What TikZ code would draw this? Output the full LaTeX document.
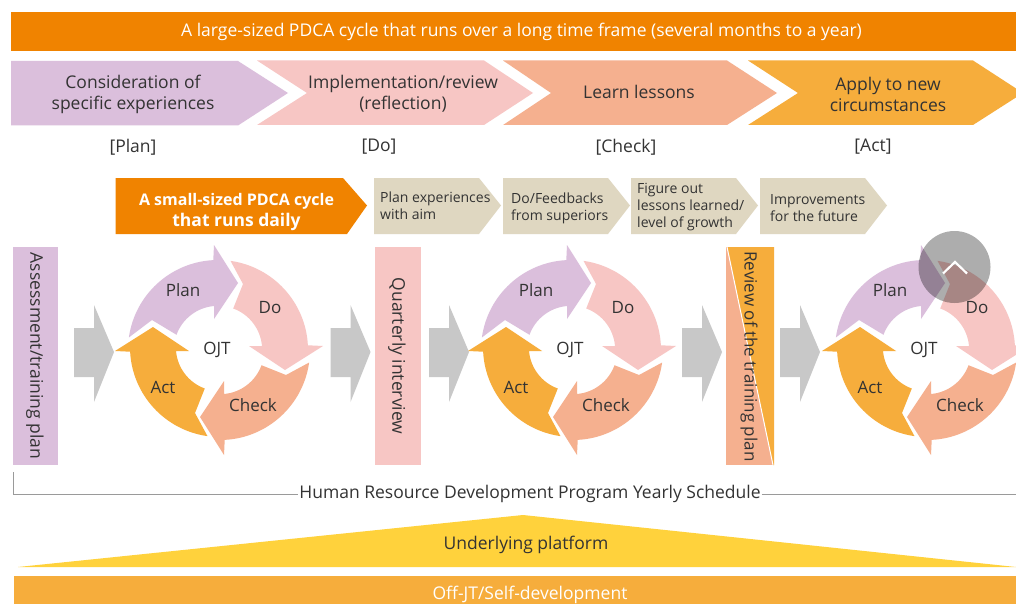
\documentclass[tikz,border=0pt]{standalone}
\usepackage{fontspec}
\setmainfont{Open Sans}
\definecolor{cPlan}{HTML}{DBBFDC}
\definecolor{cDo}{HTML}{F7C6C4}
\definecolor{cCheck}{HTML}{F5B08F}
\definecolor{cAct}{HTML}{F6AD3C}
\definecolor{cOrange}{HTML}{F08300}
\definecolor{cBeige}{HTML}{DFD7C1}
\definecolor{cGray}{HTML}{C8C8C8}
\definecolor{cYellow}{HTML}{FFD23C}
\definecolor{cText}{HTML}{333333}
\definecolor{cRule}{HTML}{9A9A9A}
\tikzset{
  txt/.style={font=\fontsize{17.5}{21}\selectfont,text=cText,inner sep=0pt,align=center},
  whitetxt/.style={txt,text=white},
  small/.style={txt,font=\fontsize{14}{17}\selectfont,align=left,anchor=west},
  vert/.style={txt,rotate=-90},
  cyc/.style={txt,font=\fontsize{17}{20}\selectfont},
}
% one curved arrow of a cycle; #1 colour, #2 rotation, #3 shift, #4 notch height
\newcommand{\cyclearrow}[4]{%
  \begin{scope}[shift={#3},rotate=#2,x=1pt,y=1pt]
    \fill[#1] (172:90) arc[start angle=172,end angle=93,radius=90] -- (-4,105) -- (20,67) -- (-4,31) -- (-4,44)
      arc[start angle=95,end angle=160,radius=44] -- (-66,#4) -- cycle;
  \end{scope}}
\newcommand{\cycleat}[2]{%
  \begin{scope}[shift={(#1,350)}]
    \cyclearrow{cPlan}{0}{(0,0)}{30}
    \cyclearrow{cDo}{-90}{(0,0)}{25}
    \cyclearrow{cCheck}{-180}{(2,0)}{25}
    \cyclearrow{cAct}{-270}{(2,-3)}{25}
  \end{scope}
  \node[cyc] (plan#2) at (#1-35,290) {Plan};
  \node[cyc] (do#2) at (#1+52,308) {Do};
  \node[cyc] (check#2) at (#1+35,405.5) {Check};
  \node[cyc] (act#2) at (#1-55,387) {Act};
  \node[cyc] (ojt#2) at (#1-1,350) {OJT};
}
\newcommand{\grayarrow}[1]{%
  \fill[cGray] (#1,328) -- (#1+20,328) -- (#1+20,305) -- (#1+40,352) -- (#1+20,402) -- (#1+20,377) -- (#1,377) -- cycle;
}
\newcommand{\beigetag}[5]{%
  \fill[cBeige] (#1,178) -- (#1+105,178) -- (#1+127,205.5) -- (#1+105,234) -- (#1,234) -- cycle;
  \node[small] (#4) at (#1+#2,#5) {#3};
}
\begin{document}
\begin{tikzpicture}[x=1pt,y=-1pt]
\useasboundingbox (0,0) rectangle (1016,604);
\fill[white] (0,0) rectangle (1016,604);
\begin{scope}
\clip (0,0) rectangle (1016,604);

\fill[cOrange] (11,12) rectangle (1016,51);
\node[whitetxt] (topbar) at (521.5,31.5) {A large-sized PDCA cycle that runs over a long time frame (several months to a year)};

\fill[cPlan] (11,61) -- (238,61) -- (288,93) -- (238,125.5) -- (11,125.5) -- cycle;
\fill[cDo] (257,60.5) -- (484,60.5) -- (533,93) -- (484,125) -- (257,125) -- (307,93) -- cycle;
\fill[cCheck] (503,60.5) -- (727,60.5) -- (777,93) -- (727,125) -- (503,125) -- (551,93) -- cycle;
\fill[cAct] (748,60.5) -- (973,60.5) -- (1023,93) -- (973,125) -- (748,125) -- (798,93) -- cycle;
\node[txt] (n1) at (133,94.5) {Consideration of\\specific experiences};
\node[txt] (n2) at (403,94) {Implementation/review\\(reflection)};
\node[txt] (n3) at (639,91.5) {Learn lessons};
\node[txt] (n4) at (888,94) {Apply to new\\circumstances};

\node[txt] (b1) at (133,147) {[Plan]};
\node[txt] (b2) at (379,147) {[Do]};
\node[txt] (b3) at (626,147) {[Check]};
\node[txt] (b4) at (873,147) {[Act]};

\fill[cOrange] (115.5,178) -- (343,178) -- (367,205.5) -- (347,234) -- (115.5,234) -- cycle;
\node[whitetxt] (small) at (236.5,212.5) {\bfseries\fontsize{16}{22}\selectfont A small-sized PDCA cycle\\\bfseries that runs daily};
\beigetag{374}{6}{Plan experiences\\with aim}{t1}{205.5}
\beigetag{503}{8}{Do/Feedbacks\\from superiors}{t2}{208}
\beigetag{631}{6}{Figure out\\lessons learned/\\level of growth}{t3}{207}
\beigetag{760}{10}{Improvements\\for the future}{t4}{208.5}

\fill[cPlan] (12.5,247) rectangle (58,465);
\node[vert] (v1) at (35,356) {Assessment/training plan};
\fill[cDo] (375,247) rectangle (421,465);
\node[vert] (v2) at (397,356) {Quarterly interview};
\fill[cCheck] (725.5,247) rectangle (774,465);
\fill[cAct] (727.5,247) -- (774,247) -- (774,465) -- (773,465) -- cycle;
\draw[white,line width=1pt] (727,247) -- (773,465);
\node[vert,font=\fontsize{17}{20}\selectfont] (v3) at (749,356.5) {Review of the training plan};

\grayarrow{74}
\grayarrow{330.5}
\grayarrow{429}
\grayarrow{682}
\grayarrow{780}

\cycleat{218}{a}
\cycleat{571}{b}
\cycleat{925}{c}

\coordinate (railtop) at (13,472);
\coordinate (railend) at (1016,494);
\node[txt,fill=white,inner xsep=1pt] (sched) at (530,494) {Human Resource Development Program Yearly Schedule};
\draw[cRule,line width=1pt] (railtop) |- (sched.west);
\draw[cRule,line width=1pt] (sched.east) -- (sched.east -| railend);

\fill[cYellow] (18,567) -- (523,515) -- (1016,567) -- cycle;
\node[txt] (under) at (526,544.5) {Underlying platform};
\fill[cAct] (14,575.5) rectangle (1016,604);
\node[whitetxt] (off) at (530,594.5) {Off-JT/Self-development};

\fill[black,opacity=.32] (954.5,267) circle[radius=36];
\draw[white,line width=2.2pt] (943,273.5) -- (955,262) -- (967,273.5);
\end{scope}
\end{tikzpicture}
\end{document}
